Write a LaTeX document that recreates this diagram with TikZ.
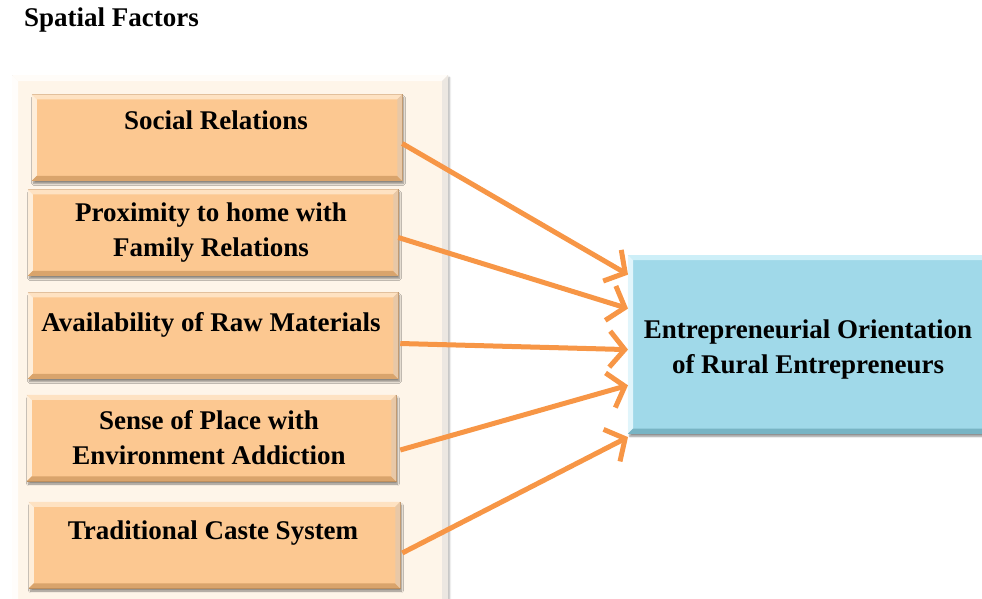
\documentclass[tikz,border=0pt]{standalone}
\usepackage{fontspec}
\setmainfont{Liberation Serif}
\usetikzlibrary{arrows.meta,calc,shadows.blur}

\definecolor{panelfill}{HTML}{FEF5E9}
\definecolor{panelline}{HTML}{CFC8C0}
\definecolor{facfill}{HTML}{FCC891}
\definecolor{faclight}{HTML}{FEE2C2}
\definecolor{facdark}{HTML}{D9A46C}
\definecolor{outfill}{HTML}{A0D9E9}
\definecolor{outlight}{HTML}{CDEFF8}
\definecolor{outdark}{HTML}{78B4C4}
\definecolor{arrowc}{HTML}{F79646}

\tikzset{
  panel/.style={draw=panelline, line width=1pt, fill=panelfill, inner sep=0pt,
    blur shadow={shadow xshift=2pt, shadow yshift=-2pt, shadow blur steps=6, shadow opacity=30}},
  facbox/.style={fill=facfill, draw=facdark!80!black, line width=0.5pt, inner sep=0pt,
    minimum width=370pt, minimum height=86pt,
    blur shadow={shadow xshift=1.5pt, shadow yshift=-3pt, shadow blur steps=6, shadow opacity=45}},
  outbox/.style={fill=outfill, draw=outdark, line width=0.5pt, inner sep=0pt,
    minimum width=360pt, minimum height=178pt,
    blur shadow={shadow xshift=1.5pt, shadow yshift=-3pt, shadow blur steps=6, shadow opacity=45}},
  boxtext/.style={font=\bfseries\fontsize{27}{35}\selectfont, align=center, inner sep=0pt, text=black},
  flow/.style={draw=arrowc, line width=5pt, -{Straight Barb[length=15pt, width=36pt]}}
}

% bevelled edges of a box: lighter on top/left, darker on bottom/right
\newcommand\bevelof[4]{%
  \fill[#3] (#1.north west) -- (#1.north east)
     -- ([shift={(-#2,-#2)}]#1.north east) -- ([shift={(#2,-#2)}]#1.north west) -- cycle;
  \fill[#3!60!white] (#1.north west) -- ([shift={(#2,-#2)}]#1.north west)
     -- ([shift={(#2,#2)}]#1.south west) -- (#1.south west) -- cycle;
  \fill[#4] (#1.south west) -- (#1.south east)
     -- ([shift={(-#2,#2)}]#1.south east) -- ([shift={(#2,#2)}]#1.south west) -- cycle;
  \fill[#4!60!white] (#1.north east) -- ([shift={(-#2,-#2)}]#1.north east)
     -- ([shift={(-#2,#2)}]#1.south east) -- (#1.south east) -- cycle;
}

\begin{document}
\begin{tikzpicture}[x=1pt, y=1pt]
\useasboundingbox (0,0) rectangle (982,-598);
\begin{scope}
\clip (0,0) rectangle (982,-598);

% title
\node[boxtext, anchor=west] (title) at (24,-20) {Spatial Factors};

% panel holding the factors
\node[panel, minimum width=435pt, minimum height=540pt, anchor=north west] (panel) at (12,-75) {};
\bevelof{panel}{6pt}{white!70!panelfill}{panelfill!88!black}

% factor boxes
\node[facbox] (f1) at (217,-137.5) {};
\node[facbox] (f2) at (213,-232.5) {};
\node[facbox] (f3) at (213,-335.5) {};
\node[facbox, minimum width=369pt] (f4) at (211.5,-438) {};
\node[facbox, minimum width=371pt] (f5) at (214.5,-545) {};
\foreach \n in {f1,f2,f3,f4,f5}{\bevelof{\n}{5pt}{faclight}{facdark}}

\node[boxtext] (t1) at (216,-120) {Social Relations};
\node[boxtext] (t2) at (211,-233) {Proximity to home with\\Family Relations};
\node[boxtext] (t3) at (211,-325) {Availability of Raw Materials};
\node[boxtext] (t4) at (209,-438) {Sense of Place with\\Environment Addiction};
\node[boxtext] (t5) at (213,-533) {Traditional Caste System};

% outcome box
\node[outbox, anchor=north west] (out) at (628,-255) {};
\bevelof{out}{5pt}{outlight}{outdark}
\node[boxtext] (tout) at (808,-349) {Entrepreneurial Orientation\\of Rural Entrepreneurs};

% influences
\draw[flow] ([yshift=-6pt]f1.east) -- ($(out.north west)!0.11!(out.south west)$);
\draw[flow] ([yshift=-5pt]f2.east) -- ($(out.north west)!0.30!(out.south west)$);
\draw[flow] ([shift={(2pt,-8pt)}]f3.east) -- ($(out.north west)!0.53!(out.south west)$);
\draw[flow] ([shift={(4pt,-12pt)}]f4.east) -- ($(out.north west)!0.73!(out.south west)$);
\draw[flow] ([shift={(2pt,-8pt)}]f5.east) -- ($(out.north west)!1.02!(out.south west)$);
\end{scope}
\end{tikzpicture}
\end{document}
